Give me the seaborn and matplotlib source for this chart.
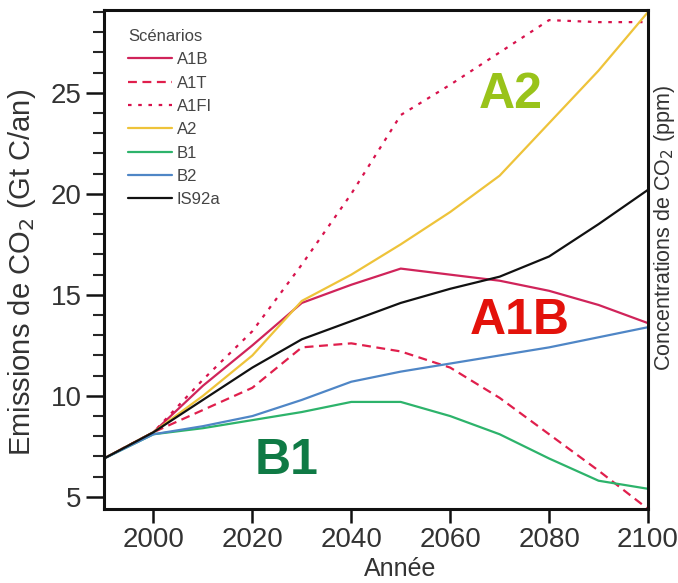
import numpy as np
import pandas as pd
import matplotlib
matplotlib.use("Agg")
import matplotlib.pyplot as plt
import seaborn as sns

years = [1990, 2000, 2010, 2020, 2030, 2040, 2050, 2060, 2070, 2080, 2090, 2100]
a1b = [6.9, 8.2, 10.5, 12.5, 14.6, 15.5, 16.3, 16.0, 15.7, 15.2, 14.5, 13.6]
a1t = [6.9, 8.2, 9.3, 10.4, 12.4, 12.6, 12.2, 11.4, 9.9, 8.1, 6.3, 4.4]
a1fi = [6.9, 8.2, 10.8, 13.2, 16.5, 20.0, 23.9, 25.4, 27.0, 28.6, 28.5, 28.5]
a2 = [6.9, 8.2, 10.0, 12.0, 14.7, 16.0, 17.5, 19.1, 20.9, 23.5, 26.1, 29.0]
b1 = [6.9, 8.1, 8.4, 8.8, 9.2, 9.7, 9.7, 9.0, 8.1, 6.9, 5.8, 5.4]
b2 = [6.9, 8.1, 8.5, 9.0, 9.8, 10.7, 11.2, 11.6, 12.0, 12.4, 12.9, 13.4]
is92a = [6.9, 8.2, 9.8, 11.4, 12.8, 13.7, 14.6, 15.3, 15.9, 16.9, 18.5, 20.2]

scenarios = ["A1B", "A1T", "A1FI", "A2", "B1", "B2", "IS92a"]
series = [a1b, a1t, a1fi, a2, b1, b2, is92a]
xticks = [2000, 2020, 2040, 2060, 2080, 2100]
yticks = [5, 10, 15, 20, 25]

colors = {"A1B": "#d0245a", "A1T": "#e01f4c", "A1FI": "#d8124c", "A2": "#eec33a",
          "B1": "#2db36b", "B2": "#4f86c6", "IS92a": "#111111"}
dashes = {"A1B": "", "A1T": (4, 2.5), "A1FI": (1.6, 3), "A2": "",
          "B1": "", "B2": "", "IS92a": ""}

df = pd.DataFrame({
    "Année": np.tile(years, len(scenarios)),
    "Emission": np.concatenate(series),
    "Scénario": np.repeat(scenarios, len(years)),
})

sns.set_style("ticks")
plt.rcParams["font.family"] = ["Liberation Sans", "DejaVu Sans"]

fig = plt.figure(figsize=(6.78, 5.83), dpi=100)
ax = fig.add_axes([104/678, 1-509/583, (648-104)/678, (509-10)/583])

sns.lineplot(data=df, x="Année", y="Emission", hue="Scénario", style="Scénario",
             hue_order=scenarios, style_order=scenarios, palette=colors,
             dashes=dashes, linewidth=1.6, ax=ax, legend=True)

ax.set_xlim(1990, 2100)
ax.set_ylim(4.4, 29.1)
ax.set_xticks(xticks)
ax.set_yticks(yticks)
ax.set_yticks(np.arange(5, 30, 1), minor=True)
ax.tick_params(axis="both", which="major", labelsize=20, width=1.8, colors="#111111",
               labelcolor="#333333")
ax.tick_params(axis="x", which="major", length=10, pad=3)
ax.tick_params(axis="y", which="major", length=13, pad=3)
ax.tick_params(axis="y", which="minor", length=8, width=1.5)
for s in ax.spines.values():
    s.set_linewidth(2.2)
    s.set_color("#111111")

ax.set_xlabel("Année", fontsize=18, color="#333333")
ax.set_ylabel("Emissions de CO$_2$ (Gt C/an)", fontsize=21, color="#333333")
ax.xaxis.set_label_coords(0.545, -0.145)
ax.xaxis.label.set_va("bottom")
ax.yaxis.set_label_coords(-0.122, 0.475)

handles, labels = ax.get_legend_handles_labels()
leg = ax.legend(handles, labels, title="Scénarios", loc="upper left",
                bbox_to_anchor=(0.045, 0.962), frameon=False, fontsize=12,
                title_fontsize=12, handlelength=2.6, handletextpad=0.3,
                labelspacing=0.5, borderpad=0, borderaxespad=0, alignment="left")
for t in leg.get_texts():
    t.set_color("#444444")
leg.get_title().set_color("#444444")

ax.text(2072.3, 24.9, "A2", color="#99c31a", fontsize=36, fontweight="bold",
        ha="center", va="center")
ax.text(2074.1, 13.7, "A1B", color="#e3120b", fontsize=36, fontweight="bold",
        ha="center", va="center")
ax.text(2027.0, 6.8, "B1", color="#0f7a45", fontsize=36, fontweight="bold",
        ha="center", va="center")

fig.text(652/678, 1-228/583, "Concentrations de CO$_2$ (ppm)", rotation=90,
         ha="left", va="center", fontsize=15.5, color="#333333")

fig.savefig("out.png", dpi=100)
